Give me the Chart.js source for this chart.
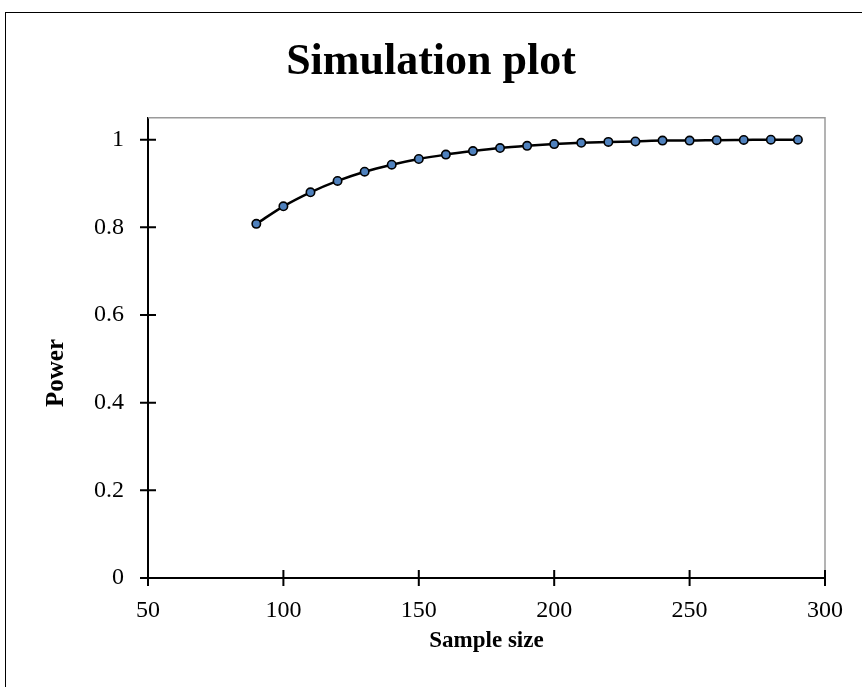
<!DOCTYPE html>
<html>
<head>
<meta charset="utf-8">
<script src="https://cdn.jsdelivr.net/npm/chart.js@4.4.0/dist/chart.umd.min.js"></script>
<style>
  body { margin: 0; background: #fff; overflow: hidden; }
  #wrap { position: relative; width: 862px; height: 687px; }
  #frame { position: absolute; left: 5px; top: 12px; width: 900px; height: 700px; border: 1.5px solid #000; }
  #myChart { position: absolute; left: 0; top: 0; }
</style>
</head>
<body>
<div id="wrap">
  <div id="frame"></div>
  <canvas id="myChart" width="862" height="687"></canvas>
</div>
<script>
var sampleSizes = [90, 100, 110, 120, 130, 140, 150, 160, 170, 180, 190, 200, 210, 220, 230, 240, 250, 260, 270, 280, 290];
var power = [0.808, 0.848, 0.880, 0.906, 0.927, 0.943, 0.956, 0.966, 0.974, 0.981, 0.986, 0.990, 0.993, 0.995, 0.996, 0.998, 0.998, 0.999, 0.9995, 1.0, 1.0];
var xTicks = [50, 100, 150, 200, 250, 300];
var yTicks = [0, 0.2, 0.4, 0.6, 0.8, 1];

var points = sampleSizes.map(function (s, i) { return { x: s, y: power[i] }; });

var serif = "'Liberation Serif', 'Times New Roman', serif";

// gray plot frame + the y title (excel puts it a bit low)
var excelFrame = {
  id: "excelFrame",
  beforeDatasetsDraw: function (chart) {
    var ctx = chart.ctx;
    var a = chart.chartArea;
    ctx.save();
    ctx.strokeStyle = "#9a9a9a";
    ctx.lineWidth = 1.5;
    ctx.beginPath();
    ctx.moveTo(a.left, a.top);
    ctx.lineTo(a.right, a.top);
    ctx.lineTo(a.right, a.bottom);
    ctx.stroke();

    ctx.translate(57, 373);
    ctx.rotate(-Math.PI / 2);
    ctx.fillStyle = "#000";
    ctx.font = "bold 25px " + serif;
    ctx.textAlign = "center";
    ctx.textBaseline = "middle";
    ctx.fillText("Power", 0, 0);
    ctx.restore();
  },
  // tick marks that cross the axis lines
  afterDraw: function (chart) {
    var ctx = chart.ctx;
    var a = chart.chartArea;
    ctx.save();
    ctx.strokeStyle = "#000";
    ctx.lineWidth = 2;
    ctx.beginPath();
    xTicks.forEach(function (t) {
      var px = chart.scales.x.getPixelForValue(t);
      ctx.moveTo(px, a.bottom - 8);
      ctx.lineTo(px, a.bottom + 8);
    });
    yTicks.forEach(function (t) {
      var py = chart.scales.y.getPixelForValue(t);
      ctx.moveTo(a.left - 8, py);
      ctx.lineTo(a.left + 8, py);
    });
    ctx.stroke();
    ctx.restore();
  }
};

new Chart("myChart", {
  type: "line",
  data: {
    datasets: [{
      data: points,
      borderColor: "#000",
      borderWidth: 2.5,
      cubicInterpolationMode: "monotone",
      pointRadius: 4.2,
      pointHoverRadius: 4.2,
      pointBackgroundColor: "#4f81bd",
      pointBorderColor: "#000",
      pointBorderWidth: 1.6,
      fill: false
    }]
  },
  options: {
    responsive: false,
    animation: false,
    layout: { padding: { top: 12, right: 37, bottom: 0, left: 37 } },
    plugins: {
      legend: { display: false },
      tooltip: { enabled: false },
      title: {
        display: true,
        text: "Simulation plot",
        color: "#000",
        font: { family: serif, size: 44, weight: "bold", lineHeight: 1.2 },
        padding: { top: 24, bottom: 29 }
      }
    },
    scales: {
      x: {
        type: "linear",
        min: 50,
        max: 300,
        afterFit: function (s) { s.height = 109; },
        afterBuildTicks: function (s) { s.ticks = xTicks.map(function (v) { return { value: v }; }); },
        grid: { display: true, drawOnChartArea: false, drawTicks: false },
        border: { display: true, color: "#000", width: 2 },
        ticks: { color: "#000", padding: 18, maxRotation: 0, font: { family: serif, size: 24 } },
        title: {
          display: true,
          text: "Sample size",
          color: "#000",
          font: { family: serif, size: 23, weight: "bold", lineHeight: 1.2 },
          padding: { top: 0, bottom: 32 }
        }
      },
      y: {
        min: 0,
        max: 1.05,
        afterFit: function (s) { s.width = 111; },
        afterBuildTicks: function (s) { s.ticks = yTicks.map(function (v) { return { value: v }; }); },
        grid: { display: true, drawOnChartArea: false, drawTicks: false },
        border: { display: true, color: "#000", width: 2 },
        ticks: {
          color: "#000",
          padding: 24,
          font: { family: serif, size: 24 },
          callback: function (v) { return String(Math.round(v * 10) / 10); }
        }
      }
    }
  },
  plugins: [excelFrame]
});
</script>
</body>
</html>
